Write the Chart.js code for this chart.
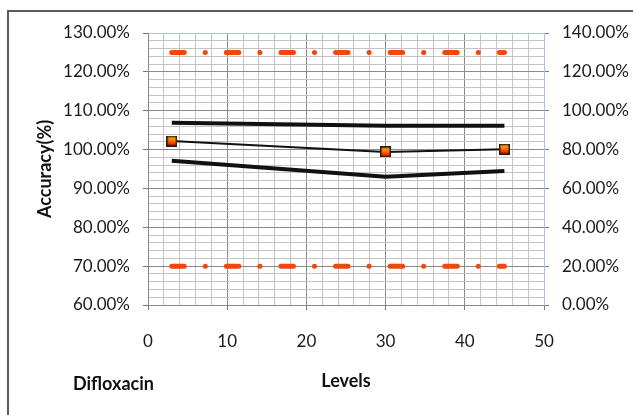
<!DOCTYPE html>
<html>
<head>
<meta charset="utf-8">
<script src="https://cdn.jsdelivr.net/npm/chart.js@4/dist/chart.umd.min.js"></script>
<style>
  body { margin: 0; background: #fff; }
  #wrap { position: relative; width: 633px; height: 415px; overflow: hidden; }
  #frame { position: absolute; left: 7px; top: 10px; width: 700px; height: 500px;
           border: 2px solid #5a5a5a; pointer-events: none; }
  #drug { position: absolute; left: 73px; top: 372px; font: bold 18px Lato, sans-serif; color: #111; }
</style>
</head>
<body>
<div id="wrap">
  <canvas id="chart" width="633" height="415"></canvas>
  <div id="frame"></div>
  <div id="drug">Difloxacin</div>
</div>
<script>
// values
const levels = [3, 30, 45];
const meanAccuracy = [102.2, 99.4, 100.1];
const upperBound = [106.9, 106.1, 106.1];
const lowerBound = [97.1, 93.0, 94.5];
const limitLevels = [3, 45];
const upperLimit = [125, 125];
const lowerLimit = [70, 70];
const xTicks = [0, 10, 20, 30, 40, 50];
const yLeftTicks = [60, 70, 80, 90, 100, 110, 120, 130];
const yRightTicks = [0, 20, 40, 60, 80, 100, 120, 140];

const pts = (xs, ys) => xs.map((x, i) => ({ x: x, y: ys[i] }));

// small square marker, orange to red
const marker = document.createElement('canvas');
marker.width = 11; marker.height = 11;
const mctx = marker.getContext('2d');
const grad = mctx.createLinearGradient(0, 0, 0, 11);
grad.addColorStop(0, '#ffc000');
grad.addColorStop(0.5, '#ff6a00');
grad.addColorStop(1, '#d40000');
mctx.fillStyle = grad;
mctx.fillRect(0, 0, 11, 11);
mctx.strokeStyle = '#2a1a10';
mctx.lineWidth = 1.5;
mctx.strokeRect(0.75, 0.75, 9.5, 9.5);

const tickFont = { family: 'Lato', size: 17 };
const titleFont = { family: 'Lato', size: 18, weight: 'bold' };
const minorGrid = '#c4c4c4';
const majorGrid = '#8a8a8a';
const edgeBlue = '#a9c3e6';

const orange = '#f2460a';

new Chart(document.getElementById('chart'), {
  type: 'line',
  data: {
    datasets: [
      {
        label: 'Mean',
        data: pts(levels, meanAccuracy),
        borderColor: '#111',
        borderWidth: 2,
        pointStyle: marker,
        pointRadius: 6,
        tension: 0
      },
      {
        label: 'Upper',
        data: pts(levels, upperBound),
        borderColor: '#111',
        borderWidth: 4,
        pointRadius: 0,
        tension: 0
      },
      {
        label: 'Lower',
        data: pts(levels, lowerBound),
        borderColor: '#111',
        borderWidth: 4,
        pointRadius: 0,
        tension: 0
      },
      {
        label: 'Upper limit',
        data: pts(limitLevels, upperLimit),
        borderColor: orange,
        borderWidth: 5,
        borderDash: [12.5, 21, 0.1, 21],
        borderCapStyle: 'round',
        pointRadius: 0
      },
      {
        label: 'Lower limit',
        data: pts(limitLevels, lowerLimit),
        borderColor: orange,
        borderWidth: 5,
        borderDash: [12.5, 21, 0.1, 21],
        borderCapStyle: 'round',
        pointRadius: 0
      }
    ]
  },
  options: {
    responsive: false,
    animation: false,
    layout: { padding: { top: 33, left: 0, right: 0, bottom: 0 } },
    plugins: {
      legend: { display: false },
      tooltip: { enabled: false }
    },
    scales: {
      x: {
        type: 'linear',
        min: xTicks[0],
        max: xTicks[xTicks.length - 1],
        afterFit: function(scale) { scale.height = 110; },
        ticks: {
          stepSize: 2,
          maxTicksLimit: 100,
          autoSkip: false,
          maxRotation: 0,
          padding: 21,
          color: '#1a1a1a',
          font: tickFont,
          callback: v => xTicks.includes(v) ? String(v) : ''
        },
        grid: {
          color: c => c.tick.value === 50 ? edgeBlue : (c.tick.value % 10 === 0 ? majorGrid : minorGrid),
          tickColor: c => c.tick.value % 10 === 0 ? '#777' : 'rgba(0,0,0,0)',
          tickLength: 5
        },
        border: { color: '#8a8a8a' },
        title: {
          display: true,
          text: 'Levels',
          font: titleFont,
          color: '#111',
          padding: { top: 0, bottom: 23 }
        }
      },
      y: {
        position: 'left',
        min: yLeftTicks[0],
        max: yLeftTicks[yLeftTicks.length - 1],
        afterFit: function(scale) { scale.width = 148; },
        ticks: {
          stepSize: 2,
          maxTicksLimit: 100,
          autoSkip: false,
          padding: 13,
          color: '#1a1a1a',
          font: tickFont,
          callback: v => yLeftTicks.includes(v) ? v.toFixed(2) + '%' : ''
        },
        grid: {
          color: c => c.tick.value === 130 ? edgeBlue : (c.tick.value % 10 === 0 ? majorGrid : minorGrid),
          tickColor: c => c.tick.value % 10 === 0 ? '#777' : 'rgba(0,0,0,0)',
          tickLength: 5
        },
        border: { color: '#8a8a8a' },
        title: {
          display: true,
          text: 'Accuracy(%)',
          font: titleFont,
          color: '#111',
          padding: { top: 34, bottom: 0 }
        }
      },
      y2: {
        position: 'right',
        min: yRightTicks[0],
        max: yRightTicks[yRightTicks.length - 1],
        afterFit: function(scale) { scale.width = 89; },
        ticks: {
          stepSize: 20,
          padding: 13,
          color: '#1a1a1a',
          font: tickFont,
          callback: v => yRightTicks.includes(v) ? v.toFixed(2) + '%' : ''
        },
        grid: {
          drawOnChartArea: false,
          tickColor: '#777',
          tickLength: 5
        },
        border: { color: edgeBlue }
      }
    }
  }
});
</script>
</body>
</html>
